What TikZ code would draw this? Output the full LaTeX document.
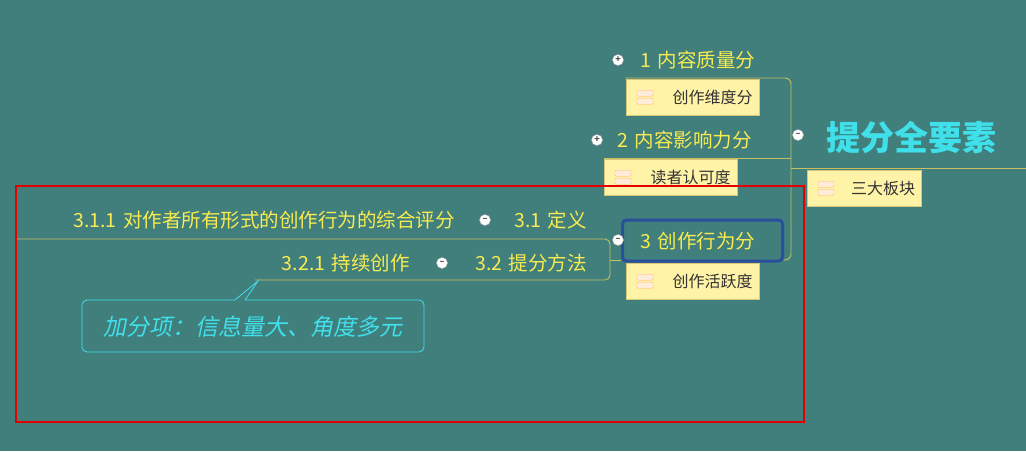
\documentclass[tikz,border=0pt]{standalone}
\usepackage{fontspec}
\setmainfont{Noto Sans CJK SC}
\newfontfamily\slantcjk[FakeSlant=0.2]{Noto Sans CJK SC}
\definecolor{bg}{HTML}{417F7D}
\definecolor{ytxt}{HTML}{F8EC50}
\definecolor{cyantxt}{HTML}{40E0EA}
\definecolor{notefill}{HTML}{FFF3A8}
\definecolor{noteline}{HTML}{D6C878}
\definecolor{brline}{HTML}{C8C060}
\definecolor{blueframe}{HTML}{2A4F9A}
\begin{document}
\begin{tikzpicture}[x=1pt,y=-1pt,
  lbl/.style={text=ytxt,font=\fontsize{19.5}{19.5}\selectfont,inner sep=0pt,anchor=west},
  notebox/.style={draw=noteline,fill=notefill,minimum height=36pt,inner sep=0pt,anchor=north west,font=\fontsize{16}{16}\selectfont,text=black!80},
  br/.style={draw=brline,line width=0.9pt},
  tog/.style={circle,draw=gray!60,fill=white,minimum size=11pt,inner sep=0pt,font=\fontsize{9}{9}\selectfont\bfseries,text=gray!60!black}]
\fill[bg] (0,0) rectangle (1026,451);
\useasboundingbox (0,0) rectangle (1026,451);
% root
\node[text=cyantxt,font=\fontsize{34}{34}\selectfont\bfseries,inner sep=0pt] (root) at (911,137) {提分全要素};
\coordinate (rootL) at (791,168);
\coordinate (rootR) at (1026,168);
\draw[br] (rootL) -- (rootR);
\node[tog] (troot) at (798,135) {--};
\node[notebox,minimum width=114pt] (n0) at (807,170) {\hspace*{38pt}三大板块\hfill};
% bracket
\coordinate (b1) at (625,78);
\coordinate (b2) at (604,158);
\coordinate (b3) at (784,260);
\draw[br,rounded corners=6pt] (b1) -- (791,78) -- (791,260) -- (b3);
\draw[br,rounded corners=6pt] (b2) -- (791,158);
% branch 1
\node[tog] (t1) at (618,60) {+};
\node[lbl] (l1) at (640,60) {1\,\,内容质量分};
\node[notebox,minimum width=133pt] (n1) at (626,79) {\hspace*{40pt}创作维度分\hfill};
% branch 2
\node[tog] (t2) at (597,140) {+};
\node[lbl] (l2) at (617,140) {2\,\,内容影响力分};
\node[notebox,minimum width=133pt] (n2) at (604,159) {\hspace*{40pt}读者认可度\hfill};
% branch 3
\node[draw=blueframe,line width=3pt,rounded corners=4pt,minimum width=160pt,minimum height=41pt,inner sep=0pt] (f3) at (702.5,240.5) {};
\node[lbl] (l3) at (640,241) {3\,\,创作行为分};
\node[tog] (t3) at (618,240) {--};
\node[notebox,minimum width=133pt] (n3) at (626,263) {\hspace*{40pt}创作活跃度\hfill};
% note icons
\foreach \n in {n0,n1,n2,n3}{
  \draw[orange!60,fill=orange!15,rounded corners=1pt] ([xshift=11pt,yshift=-7pt]\n.west) rectangle ([xshift=27pt,yshift=-1pt]\n.west);
  \draw[orange!60,fill=orange!15,rounded corners=1pt] ([xshift=11pt,yshift=1pt]\n.west) rectangle ([xshift=27pt,yshift=7pt]\n.west);
}
% left sub tree
\coordinate (s1) at (15,239);
\coordinate (s2) at (255,280);
\coordinate (s3) at (621,260);
\draw[br,rounded corners=5pt] (s1) -- (610,239) -- (610,280) -- (s2);
\draw[br] (610,260) -- (s3);
\node[tog] (t31) at (485,220) {--};
\node[lbl,anchor=east] (l31) at (587,220) {3.1\,\,定义};
\node[lbl,anchor=east] (l311) at (455,220) {3.1.1\,\,对作者所有形式的创作行为的综合评分};
\node[tog] (t32) at (442,263) {--};
\node[lbl,anchor=east] (l32) at (587,263) {3.2\,\,提分方法};
\node[lbl,anchor=east] (l321) at (410,263) {3.2.1\,\,持续创作};
% callout
\draw[cyantxt,line width=0.8pt,rounded corners=5pt] (235,300) -- (82,300) -- (82,352) -- (424,352) -- (424,300) -- (245,300);
\draw[cyantxt,line width=0.8pt] (235,300) -- (258,281) -- (245,300);
\node[text=cyantxt,font=\fontsize{23}{23}\selectfont\slantcjk,inner sep=0pt] (call) at (253,327) {加分项：信息量大、角度多元};
% red frame
\draw[red!90!black,line width=2pt] (16,186) rectangle (804,422);
\end{tikzpicture}
\end{document}
